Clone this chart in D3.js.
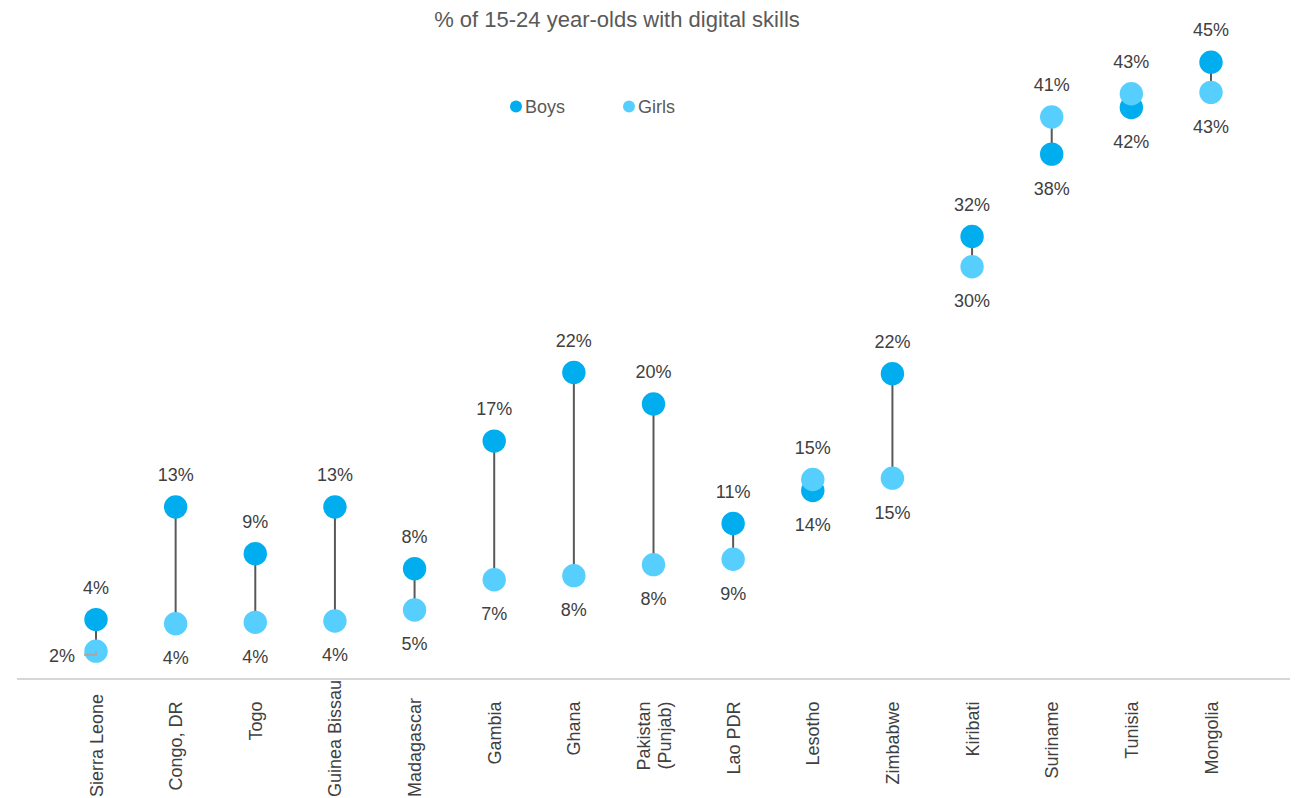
<!DOCTYPE html>
<html>
<head>
<meta charset="utf-8">
<script src="https://cdn.jsdelivr.net/npm/d3@7"></script>
<style>
  html, body { margin: 0; padding: 0; background: #ffffff; }
  svg { display: block; font-family: "Liberation Sans", Arial, sans-serif; }
</style>
</head>
<body>
<svg id="chart" width="1299" height="798"></svg>
<script>
// Share of 15-24 year-olds with digital skills, by sex
const countries = [
  "Sierra Leone", "Congo, DR", "Togo", "Guinea Bissau", "Madagascar",
  "Gambia", "Ghana", "Pakistan (Punjab)", "Lao PDR", "Lesotho",
  "Zimbabwe", "Kiribati", "Suriname", "Tunisia", "Mongolia"
];
const boys  = [0.044, 0.126, 0.092, 0.126, 0.081, 0.174, 0.224, 0.201, 0.114, 0.138, 0.223, 0.323, 0.383, 0.417, 0.450];
const girls = [0.021, 0.041, 0.042, 0.043, 0.051, 0.073, 0.076, 0.084, 0.088, 0.146, 0.147, 0.301, 0.410, 0.427, 0.428];
const seriesNames = ["Boys", "Girls"];
const titleText = "% of 15-24 year-olds with digital skills";

const colors = { Boys: "#00AEEF", Girls: "#57CFFE" };
const labelColor = "#404040";

const rows = countries.map((c, i) => ({ country: c, Boys: boys[i], Girls: girls[i] }));

const svg = d3.select("#chart");

const x = d3.scalePoint().domain(countries).range([96, 1211]);
const y = d3.scaleLinear().domain([0, 0.5]).range([680, -6.5]);
const fmt = d3.format(".0%");

// title
svg.append("text")
  .attr("x", 617).attr("y", 26.5)
  .attr("text-anchor", "middle")
  .attr("font-size", 22).attr("fill", "#595959")
  .text(titleText);

// legend
const legend = svg.append("g");
const legendX = { Boys: 516, Girls: 629 };
seriesNames.forEach(s => {
  legend.append("circle").attr("cx", legendX[s]).attr("cy", 106.5).attr("r", 6).attr("fill", colors[s]);
  legend.append("text").attr("x", legendX[s] + 9).attr("y", 112.5)
    .attr("font-size", 18).attr("fill", "#595959").text(s);
});

// category axis line
svg.append("line")
  .attr("x1", 17).attr("x2", 1290)
  .attr("y1", y(0) - 1).attr("y2", y(0) - 1)
  .attr("stroke", "#c9c9c9").attr("stroke-width", 1.5);

// rotated category labels
const catG = svg.append("g");
rows.forEach(d => {
  const lines = d.country === "Pakistan (Punjab)" ? ["Pakistan", "(Punjab)"] : [d.country];
  const cx = x(d.country);
  lines.forEach((ln, li) => {
    const off = (li - (lines.length - 1) / 2) * 21;
    const t = catG.append("text")
      .attr("text-anchor", "end")
      .attr("font-size", 18).attr("fill", labelColor)
      .text(ln);
    const len = t.node().getComputedTextLength();
    const top = Math.min(701.5, 797 - len);
    t.attr("transform", `translate(${cx + off + 6.5},${top}) rotate(-90)`);
  });
});

// connectors
svg.append("g").selectAll("line")
  .data(rows).join("line")
  .attr("x1", d => x(d.country)).attr("x2", d => x(d.country))
  .attr("y1", d => y(d.Boys)).attr("y2", d => y(d.Girls))
  .attr("stroke", "#595959").attr("stroke-width", 2);

// dots: boys first, girls on top
seriesNames.forEach(s => {
  svg.append("g").selectAll("circle")
    .data(rows).join("circle")
    .attr("cx", d => x(d.country))
    .attr("cy", d => y(d[s]))
    .attr("r", 11.7)
    .attr("fill", colors[s]);
});

// leader line for the label placed beside its dot
const leftLabel = d => d.country === "Sierra Leone";
rows.filter(leftLabel).forEach(d => {
  const cx = x(d.country), cy = y(d.Girls);
  svg.append("path")
    .attr("d", `M${cx - 12},${cy + 3.5} H${cx} V${cy}`)
    .attr("fill", "none").attr("stroke", "#a6a6a6").attr("stroke-width", 2);
});

// value labels: higher value above, lower value below
const lab = svg.append("g").attr("font-size", 18).attr("fill", labelColor);
rows.forEach(d => {
  seriesNames.forEach(s => {
    const other = s === "Boys" ? "Girls" : "Boys";
    const above = d[s] >= d[other];
    const cx = x(d.country), cy = y(d[s]);
    const t = lab.append("text").text(fmt(d[s]));
    if (!above && leftLabel(d)) {
      t.attr("x", cx - 21).attr("y", cy + 11).attr("text-anchor", "end");
    } else {
      t.attr("x", cx).attr("y", above ? cy - 25.7 : cy + 40.5).attr("text-anchor", "middle");
    }
  });
});
</script>
</body>
</html>
